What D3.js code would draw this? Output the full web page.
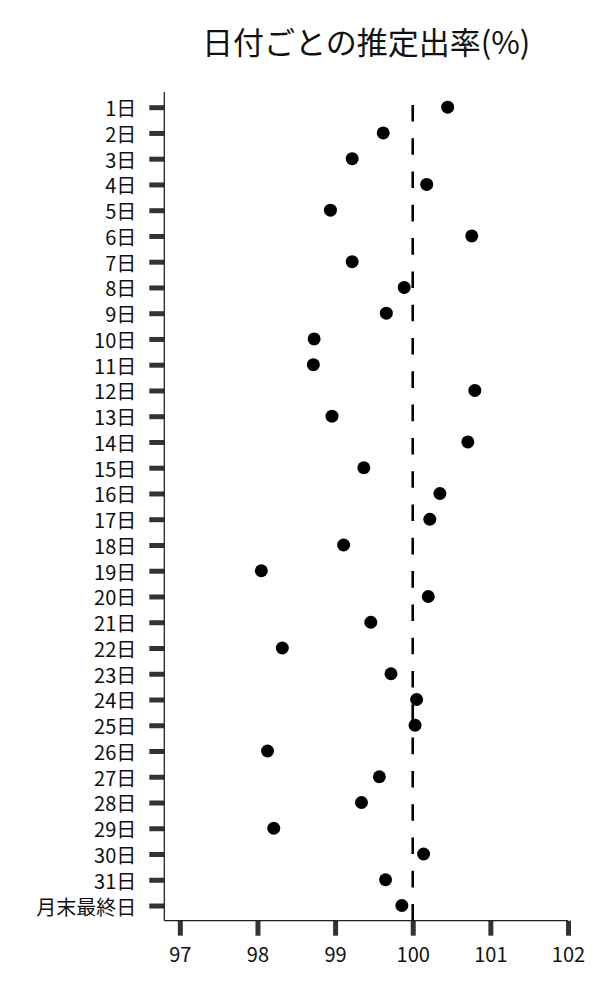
<!DOCTYPE html>
<html>
<head>
<meta charset="utf-8">
<script src="https://cdn.jsdelivr.net/npm/d3@7"></script>
<style>
  body { margin: 0; background: #fff; }
  text { font-family: "Noto Sans CJK JP", "Noto Sans", sans-serif; fill: #111; }
</style>
</head>
<body>
<svg id="chart" width="600" height="1000"></svg>
<script>
// days of the month, top to bottom
const days = ["1日","2日","3日","4日","5日","6日","7日","8日","9日","10日",
  "11日","12日","13日","14日","15日","16日","17日","18日","19日","20日",
  "21日","22日","23日","24日","25日","26日","27日","28日","29日","30日",
  "31日","月末最終日"];

// estimated rate (%) per day
const rates = [100.45, 99.62, 99.22, 100.18, 98.94, 100.76, 99.22, 99.89, 99.66, 98.73,
  98.72, 100.80, 98.96, 100.71, 99.37, 100.35, 100.22, 99.11, 98.05, 100.20,
  99.46, 98.32, 99.72, 100.05, 100.03, 98.13, 99.57, 99.34, 98.21, 100.14,
  99.65, 99.86];

const xTicks = [97, 98, 99, 100, 101, 102];
const refValue = 100;
const title = "日付ごとの推定出率(%)";

const data = days.map((d, i) => ({ day: d, rate: rates[i] }));

const margin = { top: 92, right: 32, bottom: 79.3, left: 164.3 };
const width = 600, height = 1000;

const svg = d3.select("#chart");

const x = d3.scaleLinear()
    .domain([96.8, 102])
    .range([margin.left, width - margin.right]);

const y = d3.scalePoint()
    .domain(days)
    .range([margin.top, height - margin.bottom])
    .padding(0.59);

// ticks (thick, grey, outward)
const xAxis = svg.append("g")
    .attr("transform", `translate(0, ${height - margin.bottom})`)
    .call(d3.axisBottom(x).tickValues(xTicks).tickSize(15).tickPadding(12).tickFormat(d3.format("d")));
xAxis.select(".domain").remove();
xAxis.selectAll(".tick line").attr("stroke", "#333").attr("stroke-width", 5);
xAxis.selectAll(".tick text").style("font-size", "20px").attr("fill", "#111");

const yAxis = svg.append("g")
    .attr("transform", `translate(${margin.left}, 0)`)
    .call(d3.axisLeft(y).tickSize(15).tickPadding(13));
yAxis.select(".domain").remove();
yAxis.selectAll(".tick line").attr("stroke", "#333").attr("stroke-width", 5);
yAxis.selectAll(".tick text").style("font-size", "20px").attr("fill", "#111")
    .attr("dy", null).attr("dominant-baseline", "central");

// spines, left and bottom only
svg.append("line")
    .attr("x1", margin.left).attr("x2", margin.left)
    .attr("y1", margin.top).attr("y2", height - margin.bottom)
    .attr("stroke", "#222").attr("stroke-width", 1.3);
svg.append("line")
    .attr("x1", margin.left).attr("x2", width - margin.right)
    .attr("y1", height - margin.bottom).attr("y2", height - margin.bottom)
    .attr("stroke", "#222").attr("stroke-width", 1.3);

// reference line at 100, drawn bottom-up so the dashes start at the axis
svg.append("line")
    .attr("x1", x(refValue)).attr("x2", x(refValue))
    .attr("y1", height - margin.bottom).attr("y2", margin.top)
    .attr("stroke", "#000").attr("stroke-width", 2.6)
    .attr("stroke-dasharray", "16.6,16.7");

// points
svg.append("g")
    .selectAll("circle")
    .data(data)
    .join("circle")
    .attr("cx", d => x(d.rate))
    .attr("cy", d => y(d.day))
    .attr("r", 6.5)
    .attr("fill", "#000");

// title
svg.append("text")
    .attr("x", (margin.left + width - margin.right) / 2)
    .attr("y", 54)
    .attr("text-anchor", "middle")
    .style("font-size", "31px")
    .text(title);
</script>
</body>
</html>
